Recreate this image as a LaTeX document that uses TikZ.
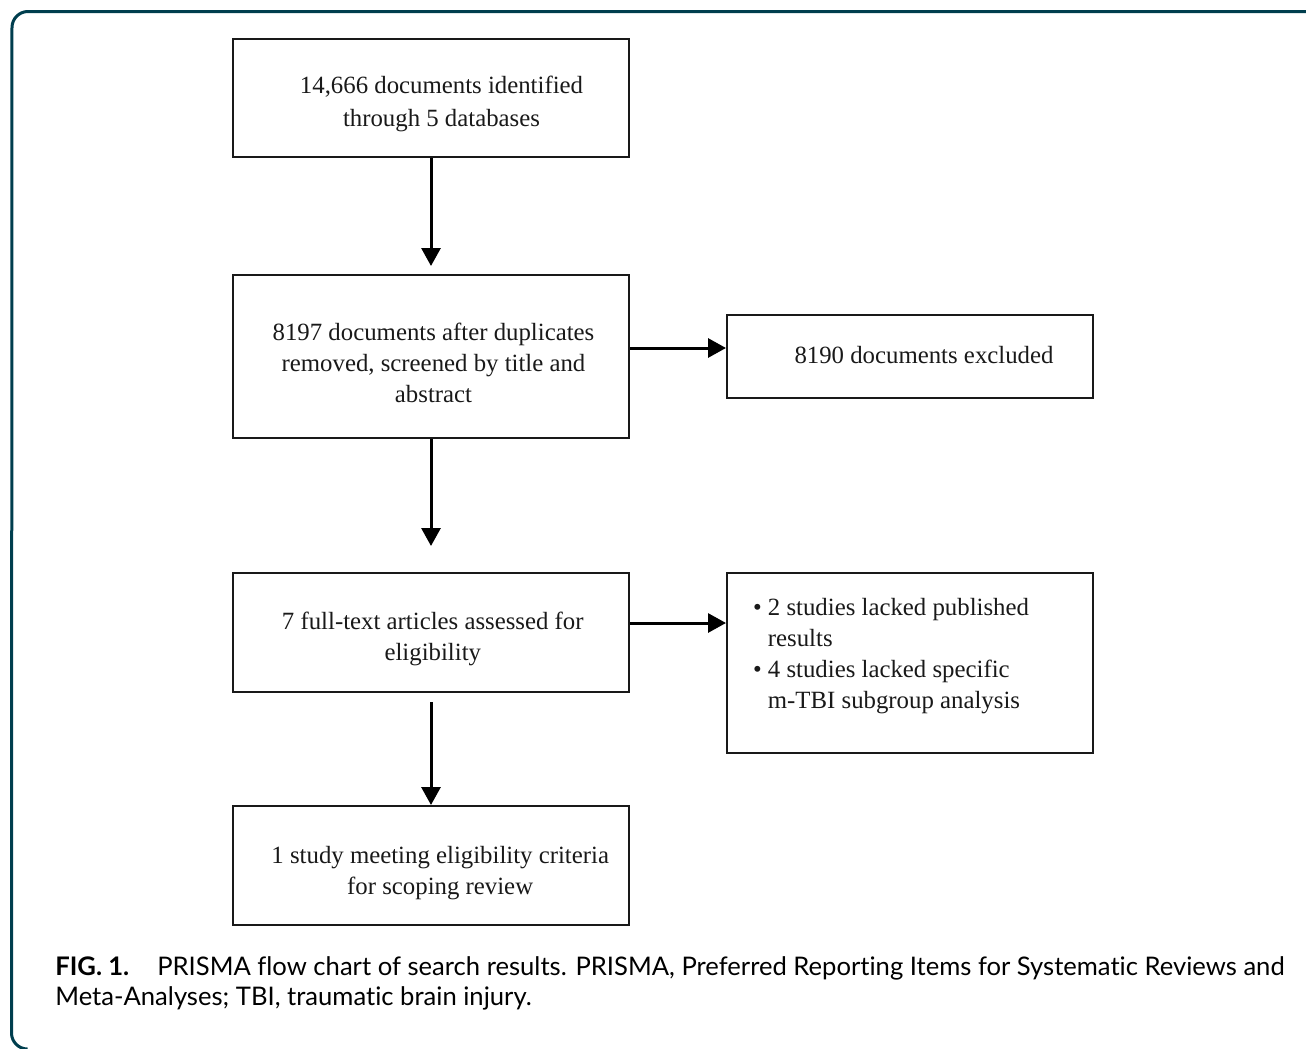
\documentclass[tikz,border=0pt]{standalone}
\usepackage{fontspec}
\setmainfont{Liberation Serif}
\newfontfamily\capfont[Ligatures=NoCommon]{Lato}
\usetikzlibrary{arrows.meta}
\definecolor{framecol}{RGB}{0,62,78}
\definecolor{inkcol}{RGB}{25,25,25}
\tikzset{
  flowbox/.style={draw=inkcol, line width=1pt, rectangle, inner sep=0pt},
  boxtext/.style={align=center, text=inkcol, inner sep=0pt,
    font=\fontsize{12.4pt}{15.5pt}\selectfont},
  flowarrow/.style={draw=black, line width=1.5pt, -{Triangle[width=9.5pt,length=9pt]}},
  frameline/.style={draw=framecol, line width=1.5pt}
}
\begin{document}
\begin{tikzpicture}[x=0.5pt,y=-0.5pt]
\useasboundingbox (0,0) rectangle (1306,1049);
% outer frame
\draw[frameline] (1306,11.5) -- (28,11.5) arc[start angle=90,end angle=180,radius=8pt]
  -- (11.5,1033) arc[start angle=180,end angle=270,radius=8pt];
% boxes
\node[flowbox, minimum width=198pt, minimum height=59pt,
  label={[boxtext, font=\fontsize{12.4pt}{16.5pt}\selectfont, xshift=5.25pt, yshift=-3pt]center:{14,666 documents identified\\through 5 databases}}] (b1) at (431,98) {};
\node[flowbox, minimum width=198pt, minimum height=81.5pt,
  label={[boxtext, xshift=1.25pt, yshift=-3.25pt]center:{8197 documents after duplicates\\removed, screened by title and\\abstract}}] (b2) at (431,356.5) {};
\node[flowbox, minimum width=198pt, minimum height=59.5pt,
  label={[boxtext, xshift=0.9pt, yshift=-3.25pt]center:{7 full-text articles assessed for\\eligibility}}] (b3) at (431,632.5) {};
\node[flowbox, minimum width=198pt, minimum height=59.5pt,
  label={[boxtext, xshift=4.6pt, yshift=-4pt]center:{1 study meeting eligibility criteria\\for scoping review}}] (b4) at (431,865.5) {};
\node[flowbox, minimum width=183pt, minimum height=41.5pt,
  label={[boxtext, xshift=7pt, yshift=0.5pt]center:{8190 documents excluded}}] (e1) at (910,356.5) {};
\node[flowbox, minimum width=183pt, minimum height=90pt,
  label={[boxtext, align=left, xshift=-9.5pt, yshift=3.5pt]center:{\textbullet\ 2 studies lacked published\\
   \phantom{\textbullet\ }results\\
   \textbullet\ 4 studies lacked specific\\
   \phantom{\textbullet\ }m-TBI subgroup analysis}}] (e2) at (910,663) {};
% arrow anchor points
\coordinate (h1s) at ([yshift=4.25pt]b2.east);
\coordinate (h2s) at ([yshift=4.75pt]b3.east);
% arrows
\draw[flowarrow, shorten >=4pt] (b1.south) -- (b2.north);
\draw[flowarrow, shorten >=13pt] (b2.south) -- (b3.north);
\draw[flowarrow, shorten <=4.5pt] (b3.south) -- (b4.north);
\draw[flowarrow] (h1s) -- (e1.west |- h1s);
\draw[flowarrow] (h2s) -- (e2.west |- h2s);
% caption
\node[anchor=base west, align=left, inner sep=0pt, text=black,
  font=\capfont\fontsize{12.8pt}{15pt}\selectfont] (cap) at (55,1005)
  {\textbf{FIG. 1.}\hspace{14pt}PRISMA flow chart of search results. PRISMA, Preferred Reporting Items for Systematic Reviews and\\
   Meta-Analyses; TBI, traumatic brain injury.};
\end{tikzpicture}
\end{document}
